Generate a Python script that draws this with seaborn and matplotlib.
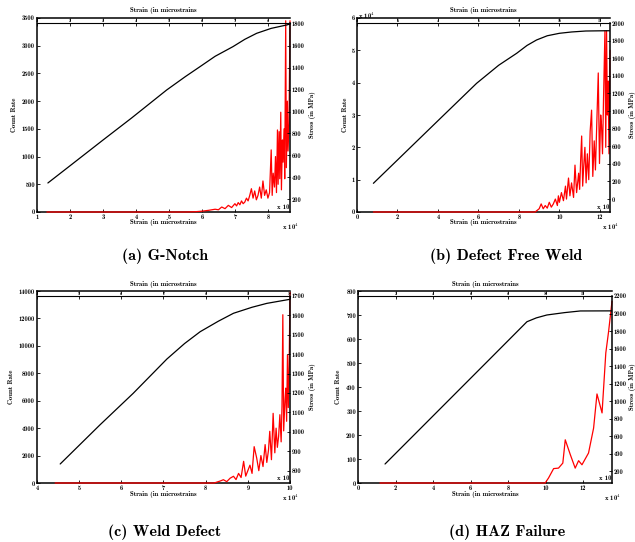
import matplotlib
matplotlib.use("Agg")
import matplotlib.pyplot as plt
import seaborn as sns
import pandas as pd
from matplotlib.ticker import FixedLocator

sns.set_theme(style="white")
plt.rcParams['font.family'] = ['cmb10', 'DejaVu Serif']
plt.rcParams['axes.unicode_minus'] = False
plt.rcParams['axes.formatter.use_mathtext'] = False
plt.rcParams['mathtext.fontset'] = 'cm'
plt.rcParams['text.color'] = 'black'
plt.rcParams['axes.labelcolor'] = 'black'
plt.rcParams['xtick.color'] = 'black'
plt.rcParams['ytick.color'] = 'black'

# ---------------- data (strain in x10^4 microstrains) ----------------
a_red_strain = [1.30, 5.50, 5.80, 6.00, 6.20, 6.40, 6.50, 6.60, 6.70, 6.80,
                6.90, 7.00, 7.05, 7.10, 7.15, 7.20, 7.25, 7.30, 7.35, 7.40,
                7.45, 7.50, 7.55, 7.60, 7.65, 7.70, 7.75, 7.80, 7.85, 7.90,
                7.95, 8.00, 8.05, 8.10, 8.13, 8.16, 8.20, 8.23, 8.26, 8.29,
                8.31, 8.34, 8.36, 8.39, 8.41, 8.44, 8.46, 8.49, 8.51, 8.54,
                8.56, 8.59, 8.61, 8.64, 8.67]
a_red_count = [0, 0, 5, 15, 30, 50, 40, 90, 60, 120,
               80, 150, 110, 170, 130, 200, 150, 180, 250, 200,
               300, 420, 250, 380, 220, 300, 450, 250, 560, 300,
               400, 250, 350, 1120, 300, 700, 450, 1000, 350, 1480,
               500, 1450, 600, 1800, 400, 1300, 900, 1500, 600, 3450,
               800, 2000, 1100, 1600, 3450]
a_blk_strain = [1.33, 2.0, 3.0, 3.87, 4.93, 5.5, 5.94, 6.4, 6.94, 7.3, 7.66, 8.1, 8.57, 8.67]
a_blk_stress = [348, 505, 740, 942, 1197, 1320, 1410, 1505, 1593, 1660, 1715, 1760, 1791, 1800]

b_red_strain = [0.81, 8.80, 9.00, 9.10, 9.20, 9.30, 9.40, 9.50, 9.60, 9.70,
                9.80, 9.90, 9.95, 10.00, 10.10, 10.20, 10.30, 10.35, 10.45, 10.52,
                10.60, 10.70, 10.77, 10.85, 10.95, 11.00, 11.05, 11.10, 11.15, 11.20,
                11.26, 11.32, 11.38, 11.45, 11.52, 11.59, 11.65, 11.72, 11.78, 11.85,
                11.92, 11.98, 12.04, 12.08, 12.13, 12.18, 12.25, 12.29, 12.33, 12.37,
                12.41, 12.45, 12.50]
b_red_count = [0, 0, 0.10, 0.25, 0.10, 0.20, 0.12, 0.30, 0.15, 0.25,
               0.40, 0.20, 0.50, 0.30, 0.60, 0.35, 0.80, 0.40, 1.05, 0.50,
               0.90, 0.45, 1.45, 0.60, 1.20, 0.70, 1.60, 2.35, 0.80, 1.40,
               2.00, 0.90, 1.80, 1.00, 2.50, 3.15, 1.10, 2.20, 1.30, 2.80,
               4.30, 1.50, 3.00, 2.70, 1.80, 3.50, 5.60, 2.00, 5.60, 3.00,
               4.05, 1.80, 5.00]
b_blk_strain = [0.81, 2.0, 4.0, 5.91, 7.0, 7.89, 8.4, 8.87, 9.4, 10.0, 10.6, 11.3, 12.3, 12.5]
b_blk_stress = [179, 444, 890, 1315, 1520, 1656, 1745, 1807, 1855, 1883, 1898, 1909, 1912, 1912]

c_red_strain = [4.43, 8.20, 8.35, 8.42, 8.50, 8.58, 8.66, 8.72, 8.78, 8.84,
                8.90, 8.95, 9.00, 9.05, 9.10, 9.15, 9.21, 9.26, 9.31, 9.36,
                9.41, 9.45, 9.49, 9.52, 9.56, 9.60, 9.64, 9.67, 9.70, 9.73,
                9.76, 9.79, 9.81, 9.83, 9.85, 9.88, 9.90, 9.92, 9.94, 9.96,
                9.98, 10.00]
c_red_count = [0, 0, 150, 240, 100, 350, 490, 250, 700, 400,
               1580, 500, 900, 1300, 700, 2650, 1820, 900, 2000, 1200,
               2800, 1500, 2400, 3770, 1700, 5080, 2200, 4000, 2600, 3400,
               4980, 3000, 5600, 12270, 3800, 6000, 6920, 4500, 9350, 5500,
               8600, 13900]
c_blk_strain = [4.55, 5.49, 6.28, 7.08, 7.5, 7.87, 8.3, 8.66, 9.1, 9.45, 10.0]
c_blk_stress = [834, 1035, 1198, 1375, 1455, 1516, 1570, 1611, 1642, 1662, 1683]

d_red_strain = [1.17, 9.97, 10.15, 10.42, 10.68, 10.91, 11.04, 11.31, 11.57,
                11.75, 11.93, 12.28, 12.55, 12.73, 13.00, 13.20, 13.35, 13.53]
d_red_count = [0, 0, 21, 60, 62, 83, 180, 118, 62,
               93, 76, 125, 229, 371, 292, 542, 632, 757]
d_blk_strain = [1.44, 3, 5, 7, 9.0, 9.5, 10.06, 11.0, 11.84, 13.44, 13.53]
d_blk_stress = [280, 615, 1045, 1475, 1906, 1950, 1983, 2010, 2029, 2030, 2030]

a_xticks = [1, 2, 3, 4, 5, 6, 7, 8]
b_xticks = [0, 2, 4, 6, 8, 10, 12]
c_xticks = [4, 5, 6, 7, 8, 9, 10]
d_xticks = [0, 2, 4, 6, 8, 10, 12]
a_lticks = [0, 500, 1000, 1500, 2000, 2500, 3000, 3500]
b_lticks = [0, 1, 2, 3, 4, 5, 6]
c_lticks = [0, 2000, 4000, 6000, 8000, 10000, 12000, 14000]
d_lticks = [0, 100, 200, 300, 400, 500, 600, 700, 800]
a_rticks = [200, 400, 600, 800, 1000, 1200, 1400, 1600, 1800]
b_rticks = [0, 200, 400, 600, 800, 1000, 1200, 1400, 1600, 1800, 2000]
c_rticks = [800, 900, 1000, 1100, 1200, 1300, 1400, 1500, 1600, 1700]
d_rticks = [200, 400, 600, 800, 1000, 1200, 1400, 1600, 1800, 2000, 2200]

captions = ["(a) G-Notch", "(b) Defect Free Weld", "(c) Weld Defect", "(d) HAZ Failure"]
strain_label = "Strain (in microstrains"

# ---------------- layout ----------------
W, H = 635, 542
fig = plt.figure(figsize=(W / 100, H / 100), dpi=100)
fig.patch.set_facecolor("white")


def rect(l, r, t, b):
    return [l / W, 1 - b / H, (r - l) / W, (b - t) / H]


def ftext(x, y, s, **kw):
    fig.text(x / W, 1 - y / H, s, color="black", **kw)


panels = [
    dict(box=(37, 290, 18, 212), t2=23, xlim=(1, 8.67), ylim=(0, 3500), y2lim=(83, 1809),
         rs=a_red_strain, rc=a_red_count, bs=a_blk_strain, bst=a_blk_stress,
         xt=a_xticks, lt=a_lticks, rt=a_rticks, cap=captions[0], capx=165, capy=256,
         lly=14, rly=313, lyoff=False),
    dict(box=(357, 610, 18, 212), t2=23, xlim=(0, 12.5), ylim=(0, 6), y2lim=(-147, 2000),
         rs=b_red_strain, rc=b_red_count, bs=b_blk_strain, bst=b_blk_stress,
         xt=b_xticks, lt=b_lticks, rt=b_rticks, cap=captions[1], capx=506, capy=256,
         lly=345, rly=632, lyoff=True),
    dict(box=(37, 290, 291, 483), t2=296, xlim=(4, 10), ylim=(0, 14000), y2lim=(736, 1700),
         rs=c_red_strain, rc=c_red_count, bs=c_blk_strain, bst=c_blk_stress,
         xt=c_xticks, lt=c_lticks, rt=c_rticks, cap=captions[2], capx=165, capy=532,
         lly=11, rly=313, lyoff=False),
    dict(box=(358, 612, 291, 483), t2=296, xlim=(0, 13.53), ylim=(0, 800), y2lim=(63, 2200),
         rs=d_red_strain, rc=d_red_count, bs=d_blk_strain, bst=d_blk_stress,
         xt=d_xticks, lt=d_lticks, rt=d_rticks, cap=captions[3], capx=507, capy=532,
         lly=338, rly=632, lyoff=False),
]

TS = 4.6
for p in panels:
    l, r, t, b = p["box"]
    ax = fig.add_axes(rect(l, r, t, b))
    ax2 = fig.add_axes(rect(l, r, p["t2"], b))
    ax2.patch.set_alpha(0)
    ax.set_facecolor("white")

    dfr = pd.DataFrame({"strain": p["rs"], "count": p["rc"]})
    dfb = pd.DataFrame({"strain": p["bs"], "stress": p["bst"]})

    sns.lineplot(data=dfr, x="strain", y="count", ax=ax, color="#ff0000", lw=0.9,
                 sort=False, estimator=None, zorder=5, clip_on=False)
    sns.lineplot(data=dfb, x="strain", y="stress", ax=ax2, color="black", lw=0.9,
                 sort=False, estimator=None)

    for a in (ax, ax2):
        a.set_xlim(*p["xlim"])
        a.set_xlabel("")
        a.set_ylabel("")
    ax.set_ylim(*p["ylim"])
    ax2.set_ylim(*p["y2lim"])

    ax.xaxis.set_major_locator(FixedLocator(p["xt"]))
    ax.set_xticklabels([str(v) for v in p["xt"]])
    ax.yaxis.set_major_locator(FixedLocator(p["lt"]))
    ax.set_yticklabels([str(v) for v in p["lt"]])
    ax.tick_params(axis="both", which="both", direction="in", length=2.2, width=0.6,
                   labelsize=TS, pad=1.5, colors="black", top=True, bottom=True,
                   left=True, right=False)
    for s in ax.spines.values():
        s.set_linewidth(1.1)
        s.set_color("black")
    ax.spines["right"].set_visible(False)

    ax2.yaxis.tick_right()
    ax2.yaxis.set_major_locator(FixedLocator(p["rt"]))
    ax2.set_yticklabels([str(v) for v in p["rt"]])
    ax2.xaxis.tick_top()
    ax2.xaxis.set_major_locator(FixedLocator(p["xt"]))
    ax2.set_xticklabels([str(v) for v in p["xt"]])
    ax2.tick_params(axis="y", direction="in", length=2.2, width=0.6, labelsize=TS,
                    pad=1.0, colors="black", left=False, right=True)
    ax2.tick_params(axis="x", direction="in", length=2.0, width=0.6, labelsize=3.0,
                    pad=0.3, colors="black", top=True, bottom=False)
    ax2.spines["left"].set_visible(False)
    ax2.spines["bottom"].set_visible(False)
    ax2.spines["top"].set_linewidth(0.8)
    ax2.spines["right"].set_linewidth(1.1)
    for s in ax2.spines.values():
        s.set_color("black")

    cx = (l + r) / 2
    ftext(cx, t - 7, strain_label, fontsize=4.8, ha="center", va="center")
    ftext(cx, b + 11, strain_label, fontsize=4.8, ha="center", va="center")
    ftext(p["lly"], (t + b) / 2, "Count Rate", fontsize=4.8, rotation=90,
          ha="center", va="center")
    ftext(p["rly"], (t + b) / 2, "Stress (in MPa)", fontsize=4.8, rotation=90,
          ha="center", va="center")
    ftext(r - 1, b - 5, "x 10", fontsize=4.8, ha="right", va="center")
    ftext(r - 8, b + 15, r"x 10$^4$", fontsize=4.8, ha="left", va="center")
    if p["lyoff"]:
        ftext(l + 1, t - 2, r"x 10$^4$", fontsize=4.8, ha="left", va="center")
    ftext(p["capx"], p["capy"], p["cap"], fontsize=11.5, ha="center", va="center")

fig.savefig("out.png", dpi=100, facecolor="white")
